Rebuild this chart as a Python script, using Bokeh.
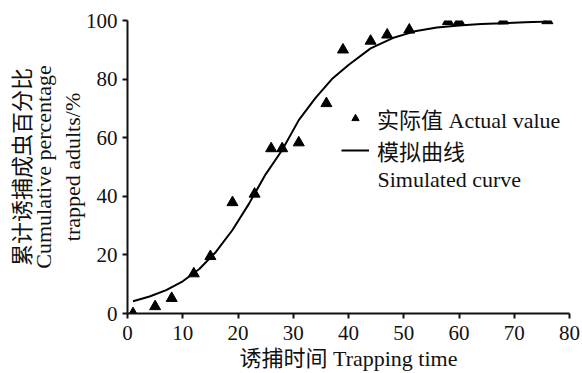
from bokeh.plotting import figure
from bokeh.models import Range1d, FixedTicker, Legend, LegendItem, LinearAxis, Label
from bokeh.embed import file_html
from bokeh.resources import INLINE

# data
actual_x = [1, 5, 8, 12, 15, 19, 23, 26, 28, 31, 36, 39, 44, 47, 51, 58, 60, 68, 76]
actual_y = [0, 2.4, 5.2, 13.6, 19.5, 37.9, 40.8, 56.3, 56.3, 58.3, 71.7, 90, 93, 95.1, 96.8, 99.7, 99.7, 99.9, 100]

curve_x = [1, 4, 7, 10, 13, 16, 19, 22, 25, 28, 31, 34, 37, 40, 44, 48, 52, 56, 60, 64, 68, 72, 76]
curve_y = [4.2, 5.8, 8.0, 11.0, 15.2, 21.0, 28.5, 37.5, 47.5, 55.8, 66.0, 73.5, 80.0, 84.8, 90.5, 94.0, 96.3, 97.6, 98.3, 98.8, 99.1, 99.4, 99.7]

x_ticks = [0, 10, 20, 30, 40, 50, 60, 70, 80]
y_ticks = [0, 20, 40, 60, 80, 100]

x_title = "诱捕时间 Trapping time"
y_title_lines = ["累计诱捕成虫百分比", "Cumulative percentage", "trapped adults/%"]
legend_labels = ["实际值 Actual value", "模拟曲线", "Simulated curve"]

FONT = "Liberation Serif, Noto Sans CJK SC"
SERIF = "Liberation Serif"
INK = "#111111"

W, H = 582, 373
L, R, T, B = 127, 13, 20, 59

p = figure(width=W, height=H, output_backend="svg", toolbar_location=None,
           x_range=Range1d(0, 80), y_range=Range1d(0, 100),
           min_border_left=L, min_border_right=R, min_border_top=T, min_border_bottom=B)
p.xgrid.visible = False
p.ygrid.visible = False
p.outline_line_color = None
p.background_fill_color = "white"
p.border_fill_color = "white"

for ax in (p.xaxis[0], p.yaxis[0]):
    ax.axis_line_color = INK
    ax.axis_line_width = 2
    ax.major_tick_line_color = INK
    ax.major_tick_line_width = 2
    ax.major_tick_out = 5
    ax.major_tick_in = 0
    ax.minor_tick_line_color = None
    ax.major_label_text_font = SERIF
    ax.major_label_text_font_size = "21px"
    ax.major_label_text_color = INK
    ax.axis_label_text_font = FONT
    ax.axis_label_text_font_style = "normal"
    ax.axis_label_text_color = INK

p.xaxis.ticker = FixedTicker(ticks=x_ticks)
p.yaxis.ticker = FixedTicker(ticks=y_ticks)
p.xaxis.major_label_standoff = 7
p.yaxis.major_label_standoff = 5
p.xaxis.axis_label = x_title
p.xaxis.axis_label_text_font_size = "22px"
p.xaxis.axis_label_standoff = 3

# innermost y title line on the main axis
p.yaxis.axis_label = y_title_lines[2]
p.yaxis.axis_label_text_font = SERIF
p.yaxis.axis_label_text_font_size = "22px"
p.yaxis.axis_label_standoff = -2

# two more title lines on bare axes further left
for text, font, standoff in [(y_title_lines[1], SERIF, 1), (y_title_lines[0], FONT, -7)]:
    ax = LinearAxis(ticker=FixedTicker(ticks=[]), axis_label=text)
    ax.axis_line_color = None
    ax.major_tick_line_color = None
    ax.minor_tick_line_color = None
    ax.major_tick_out = 0
    ax.major_tick_in = 0
    ax.major_label_standoff = 0
    ax.axis_label_standoff = standoff
    ax.axis_label_text_font = font
    ax.axis_label_text_font_style = "normal"
    ax.axis_label_text_font_size = "22px"
    ax.axis_label_text_color = INK
    p.add_layout(ax, "left")

line_r = p.line(curve_x, curve_y, line_color="black", line_width=2)
pts_r = p.scatter(actual_x, actual_y, marker="triangle", size=11,
                  fill_color="black", line_color="black")

legend = Legend(items=[LegendItem(label=legend_labels[0], renderers=[pts_r]),
                       LegendItem(label=legend_labels[1], renderers=[line_r])],
                location=(214, 147), orientation="vertical",
                background_fill_alpha=0, border_line_alpha=0,
                padding=0, margin=0, spacing=-9,
                glyph_width=28, glyph_height=18, label_standoff=8,
                label_text_font=FONT, label_text_font_size="22px",
                label_text_color=INK, label_height=18)
p.add_layout(legend, "center")

# second line of the curve's legend entry
sx = 80 / (W - L - R)
sy = 100 / (H - T - B)
p.add_layout(Label(x=(377 - L) * sx, y=(H - B - 180) * sy, text=legend_labels[2],
                   text_align="left", text_baseline="middle",
                   text_font=SERIF, text_font_size="22px", text_color=INK))

open("out.html", "w").write(file_html(p, INLINE))
